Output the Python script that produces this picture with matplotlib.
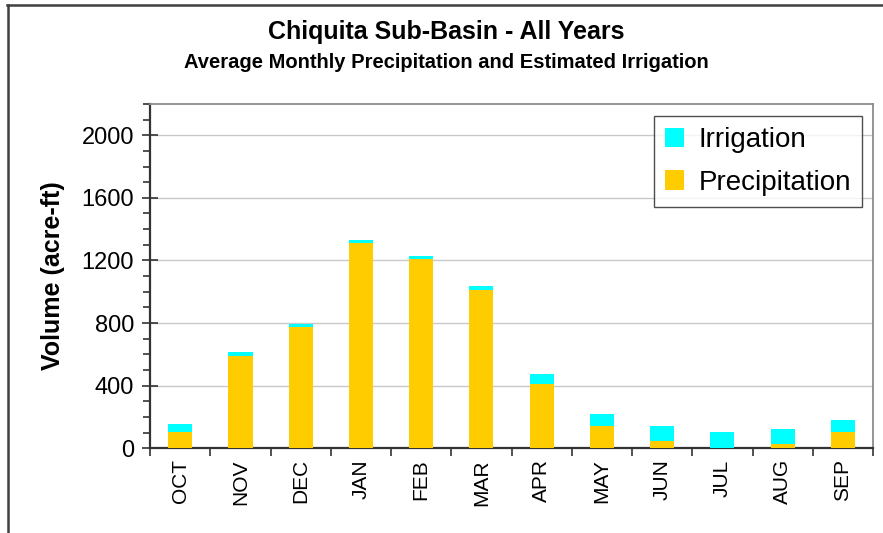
import matplotlib
matplotlib.use("Agg")
import matplotlib.pyplot as plt
from matplotlib.lines import Line2D
from matplotlib.ticker import MultipleLocator, FixedLocator, NullFormatter
import numpy as np

plt.rcParams['font.family'] = ['Liberation Sans', 'DejaVu Sans']

months = ["OCT", "NOV", "DEC", "JAN", "FEB", "MAR",
          "APR", "MAY", "JUN", "JUL", "AUG", "SEP"]
# average monthly volumes (acre-ft)
precip = [105, 588, 774, 1313, 1210, 1014, 409, 139, 49, 3, 30, 105]
irrig = [47, 26, 19, 19, 19, 22, 64, 77, 90, 98, 96, 73]

fig = plt.figure(figsize=(8.83, 5.33), dpi=100)
ax = fig.add_axes([0.170, 0.159, 0.8187, 0.646])

x = np.arange(len(months))
ax.bar(x, precip, width=0.4, color="#FFCC00", label="Precipitation", zorder=3)
ax.bar(x, irrig, width=0.4, bottom=precip, color="#00FFFF",
       label="Irrigation", zorder=3)

ax.set_xlim(-0.5, len(months) - 0.5)
ax.set_ylim(0, 2200)

# y axis: labelled majors every 400, minors every 100
ax.yaxis.set_major_locator(FixedLocator([0, 400, 800, 1200, 1600, 2000]))
ax.yaxis.set_minor_locator(MultipleLocator(100))
ax.tick_params(axis="y", which="major", direction="inout", length=11,
               width=1.2, labelsize=17, pad=6, color="#333333")
ax.tick_params(axis="y", which="minor", direction="out", length=5,
               width=1.2, color="#333333")
ax.grid(axis="y", which="major", color="#c8c8c8", linewidth=1, zorder=0)

# x axis: ticks between categories, month names centred under the bars
ax.xaxis.set_major_locator(FixedLocator(np.arange(-0.5, len(months), 1.0)))
ax.xaxis.set_major_formatter(NullFormatter())
ax.xaxis.set_minor_locator(FixedLocator(x))
ax.set_xticks(x, months, minor=True, rotation=90)
ax.tick_params(axis="x", which="major", direction="out", length=6,
               width=1.2, color="#333333")
ax.tick_params(axis="x", which="minor", length=0, labelsize=15, pad=8)

for side in ("left", "bottom"):
    ax.spines[side].set_color("#333333")
    ax.spines[side].set_linewidth(1.6)
for side in ("top", "right"):
    ax.spines[side].set_color("#8c8c8c")
    ax.spines[side].set_linewidth(1.3)

ax.set_ylabel("Volume (acre-ft)", fontsize=18, fontweight="bold", labelpad=12)

handles, labels = ax.get_legend_handles_labels()
leg = ax.legend(handles[::-1], labels[::-1], loc="upper right",
                bbox_to_anchor=(862 / 883, 1 - 116 / 533),
                bbox_transform=fig.transFigure, fontsize=20, frameon=True,
                fancybox=False, edgecolor="#222222", handlelength=0.7,
                handleheight=0.7, handletextpad=0.5, borderpad=0.4,
                labelspacing=0.6, borderaxespad=0)
leg.get_frame().set_linewidth(1.0)
leg.set_zorder(5)

fig.text(446 / 883, 1 - 32 / 533, "Chiquita Sub-Basin - All Years",
         ha="center", va="center", fontsize=18, fontweight="bold")
fig.text(446 / 883, 1 - 62 / 533,
         "Average Monthly Precipitation and Estimated Irrigation",
         ha="center", va="center", fontsize=14.5, fontweight="bold")

# outer chart frame (top and left edges)
fig.add_artist(Line2D([7 / 883, 1], [1 - 5 / 533] * 2, color="#404040",
                      linewidth=1.8, transform=fig.transFigure))
fig.add_artist(Line2D([8 / 883] * 2, [0, 1 - 5 / 533], color="#404040",
                      linewidth=1.8, transform=fig.transFigure))

fig.savefig("out.png", dpi=100)
